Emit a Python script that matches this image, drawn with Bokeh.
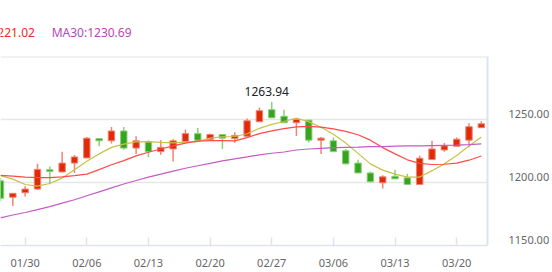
from bokeh.plotting import figure
from bokeh.layouts import column
from bokeh.models import Range1d, FixedTicker, Span
from bokeh.core.properties import value
from bokeh.embed import file_html
from bokeh.resources import INLINE

dates = ["01/26", "01/27", "01/30", "01/31", "02/01", "02/02", "02/03",
         "02/06", "02/07", "02/08", "02/09", "02/10",
         "02/13", "02/14", "02/15", "02/16", "02/17",
         "02/20", "02/21", "02/22", "02/23", "02/24",
         "02/27", "02/28", "03/01", "03/02", "03/03",
         "03/06", "03/07", "03/08", "03/09", "03/10",
         "03/13", "03/14", "03/15", "03/16", "03/17",
         "03/20", "03/21", "03/22"]

opens = [1201.3, 1188.3, 1191.9, 1194.8, 1210.2, 1208.4, 1215.4, 1219.5, 1234.9, 1233.1,
         1240.9, 1227.3, 1232.3, 1224.5, 1226.6, 1232.6, 1238.8, 1234.1, 1238.1, 1234.9,
         1236.7, 1248.2, 1257.8, 1252.6, 1247.4, 1249.5, 1233.6, 1233.1, 1225.2, 1215.4,
         1207.6, 1199.8, 1204.9, 1203.7, 1198.4, 1218.2, 1225.8, 1228.7, 1233.6, 1243.5]
closes = [1187.5, 1191.4, 1194.8, 1210.4, 1208.8, 1215.4, 1220.3, 1235.2, 1233.1, 1240.9,
          1227.3, 1233.1, 1224.5, 1227.9, 1233.1, 1238.8, 1233.6, 1238.1, 1235.2, 1237.3,
          1249.0, 1257.0, 1251.3, 1247.4, 1250.0, 1233.6, 1235.2, 1224.5, 1214.8, 1207.6,
          1200.6, 1204.5, 1202.9, 1198.4, 1219.3, 1226.6, 1229.1, 1234.4, 1244.3, 1246.6]
highs = [1203.5, 1191.6, 1197.1, 1214.8, 1212.7, 1224.5, 1221.9, 1236.2, 1235.2, 1244.0,
         1244.0, 1236.7, 1233.6, 1233.6, 1234.4, 1242.0, 1243.2, 1238.8, 1238.3, 1239.8,
         1250.8, 1259.6, 1263.94, 1257.8, 1250.8, 1249.6, 1236.2, 1235.7, 1226.6, 1218.0,
         1208.8, 1205.7, 1210.2, 1207.0, 1221.3, 1233.1, 1231.3, 1235.7, 1247.1, 1248.7]
lows = [1185.2, 1181.3, 1188.8, 1194.0, 1198.7, 1208.0, 1207.6, 1219.2, 1228.7, 1231.0,
        1226.0, 1222.7, 1220.1, 1222.1, 1216.6, 1231.8, 1233.1, 1233.1, 1226.6, 1231.5,
        1236.5, 1248.0, 1251.1, 1247.2, 1237.0, 1231.8, 1222.7, 1224.2, 1214.3, 1207.3,
        1199.8, 1195.3, 1202.7, 1198.2, 1198.2, 1218.0, 1224.5, 1228.5, 1227.9, 1243.3]

ma5 = [1205.5, 1202.7, 1198.4, 1197.1, 1199.2, 1203.5, 1210.2, 1216.8, 1222.7, 1227.9,
       1230.5, 1232.3, 1232.4, 1231.8, 1231.4, 1232.0, 1232.4, 1235.2, 1236.2, 1236.5,
       1238.7, 1243.0, 1246.1, 1248.4, 1251.2, 1248.1, 1243.8, 1238.3, 1231.3, 1223.1,
       1214.8, 1209.8, 1206.6, 1204.3, 1204.3, 1209.4, 1214.8, 1221.5, 1228.9, 1236.17]
ma10 = [1205.7, 1205.1, 1204.3, 1203.9, 1203.9, 1204.5, 1205.5, 1206.6, 1210.2, 1214.1,
        1217.4, 1221.1, 1224.0, 1226.6, 1229.1, 1231.3, 1232.8, 1233.2, 1233.2, 1233.1,
        1235.6, 1238.8, 1241.0, 1242.7, 1244.1, 1244.5, 1243.9, 1242.6, 1240.6, 1237.9,
        1233.6, 1227.7, 1222.7, 1218.0, 1215.2, 1214.3, 1214.5, 1215.4, 1217.7, 1221.02]
ma30 = [1171.9, 1174.2, 1176.2, 1178.5, 1180.9, 1183.6, 1186.3, 1189.5, 1192.6, 1195.7,
        1198.8, 1201.6, 1204.3, 1206.6, 1209.0, 1211.3, 1213.3, 1215.2, 1217.2, 1218.8,
        1220.3, 1221.9, 1223.2, 1224.2, 1225.8, 1226.6, 1227.1, 1227.6, 1227.9, 1228.1,
        1228.4, 1228.5, 1228.9, 1229.1, 1229.1, 1229.3, 1229.5, 1229.7, 1230.1, 1230.69]

y_ticks = [1150, 1200, 1250]
x_tick_labels = ["01/30", "02/06", "02/13", "02/20", "02/27", "03/06", "03/13", "03/20"]
legend_names = ["MA10", "MA30"]

RED_FILL, RED_LINE = "#e02a08", "#f08474"
GREEN_FILL, GREEN_LINE = "#35a51d", "#8ccf7c"
GRID = "#e6e6e6"
AXIS = "#dde4ee"
FONT = "Noto Sans"
MA_COLORS = {"MA5": "#c9c048", "MA10": "#ff4a4a", "MA30": "#c45cc4"}
LEGEND_TEXT = {"MA10": "#f02828", "MA30": "#b848b8"}

idx = list(range(len(dates)))

# ---- legend strip (top) ----
lg = figure(width=552, height=56, output_backend="svg", toolbar_location=None,
            x_range=Range1d(0, 552), y_range=Range1d(56, 0),
            min_border=0, outline_line_color=None)
lg.axis.visible = False
lg.grid.visible = False
last = {"MA10": ma10[-1], "MA30": ma30[-1]}
lg.text(x=[39], y=[32], text=[f"MA10:{last['MA10']:.2f}"], text_align="right",
        text_baseline="middle", text_font=value(FONT), text_font_size="12px",
        text_color=LEGEND_TEXT["MA10"])
lg.text(x=[58], y=[32], text=[f"MA30:{last['MA30']:.2f}"], text_align="left",
        text_baseline="middle", text_font=value(FONT), text_font_size="12px",
        text_color=LEGEND_TEXT["MA30"])

# ---- main chart ----
p = figure(width=552, height=216, output_backend="svg", toolbar_location=None,
           x_range=Range1d(0, 39.5), y_range=Range1d(1150, 1300),
           y_axis_location="right", min_border_left=0, min_border_top=0,
           min_border_bottom=24, min_border_right=60)
p.outline_line_color = None

p.xgrid.visible = False
p.ygrid.ticker = FixedTicker(ticks=y_ticks)
p.ygrid.grid_line_color = GRID
p.ygrid.grid_line_width = 1.5
p.add_layout(Span(location=1300, dimension="width", line_color=GRID, line_width=2))

up = [i for i in idx if closes[i] >= opens[i]]
dn = [i for i in idx if closes[i] < opens[i]]
for sel, fill, line in ((up, RED_FILL, RED_LINE), (dn, GREEN_FILL, GREEN_LINE)):
    p.segment(x0=sel, x1=sel, y0=[lows[i] for i in sel], y1=[highs[i] for i in sel],
              line_color=line, line_width=1.5)
    p.vbar(x=sel, width=0.52,
           top=[max(opens[i], closes[i]) for i in sel],
           bottom=[min(opens[i], closes[i]) for i in sel],
           fill_color=fill, line_color=line, line_width=1)

p.line(idx, ma5, line_color=MA_COLORS["MA5"], line_width=1.2)
p.line(idx, ma10, line_color=MA_COLORS["MA10"], line_width=1.2)
p.line(idx, ma30, line_color=MA_COLORS["MA30"], line_width=1.2)

imax = max(idx, key=lambda i: highs[i])
p.text(x=[imax], y=[highs[imax]], text=[f"{highs[imax]:.2f}"], text_align="center",
       text_baseline="bottom", y_offset=-6, x_offset=-5, text_font_size="12px",
       text_color="#222222", text_font=value(FONT))

xa = p.xaxis[0]
xa.ticker = FixedTicker(ticks=[dates.index(d) for d in x_tick_labels])
xa.major_label_overrides = {dates.index(d): d for d in x_tick_labels}
xa.axis_line_color = AXIS
xa.axis_line_width = 1.5
xa.major_tick_line_color = AXIS
xa.major_tick_line_width = 1.5
xa.major_tick_in = 8
xa.major_tick_out = 0
xa.minor_tick_line_color = None
xa.major_label_standoff = 9
xa.major_label_text_font = FONT
xa.major_label_text_font_size = "11px"
xa.major_label_text_color = "#666666"

# labels sit slightly above their grid lines (about 6px = 4.7 units)
lift = 4.7
ya = p.yaxis[0]
ya.ticker = FixedTicker(ticks=[t + lift for t in y_ticks])
ya.major_label_overrides = {t + lift: f"{t:.2f}" for t in y_ticks}
ya.axis_line_color = AXIS
ya.axis_line_width = 2
ya.major_tick_line_color = None
ya.minor_tick_line_color = None
ya.major_label_standoff = 15
ya.major_label_text_font = FONT
ya.major_label_text_font_size = "11px"
ya.major_label_text_color = "#666666"

layout = column(lg, p, spacing=0)
open("out.html", "w").write(file_html(layout, INLINE))
